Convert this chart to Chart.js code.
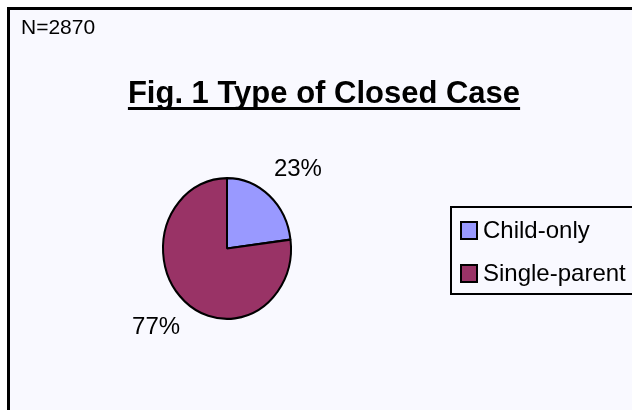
<!DOCTYPE html>
<html>
<head>
<meta charset="utf-8">
<script src="https://cdn.jsdelivr.net/npm/chart.js@4.4.1/dist/chart.umd.min.js"></script>
<style>
  html, body { margin: 0; padding: 0; background: #fff; overflow: hidden; }
  canvas { display: block; }
</style>
</head>
<body>
<canvas id="pie" width="632" height="410"></canvas>
<script>
'use strict';
// Fig. 1 — type de dossier clos (N=2870), camembert + légende encadrée.
const LABELS = ['Child-only', 'Single-parent'];
const VALUES = [23, 77];
const COLORS = ['#9999FF', '#993366'];
const TITLE = 'Fig. 1 Type of Closed Case';
const NOTE = 'N=2870';

const FONT = '"Liberation Sans", Arial, sans-serif';
const BG = '#F9F9FF';
const SY = 1.1; // l'original est légèrement étiré en hauteur

const decor = {
  id: 'decor',
  beforeDraw(c) {
    const ctx = c.ctx;
    ctx.save();
    ctx.fillStyle = '#fff'; ctx.fillRect(0, 0, c.width, c.height);
    ctx.fillStyle = BG; ctx.fillRect(9, 9, c.width, c.height);
    ctx.strokeStyle = '#000'; ctx.lineWidth = 3;
    ctx.beginPath(); ctx.moveTo(8.5, c.height + 5); ctx.lineTo(8.5, 8.5); ctx.lineTo(c.width + 5, 8.5); ctx.stroke();
    // N
    ctx.fillStyle = '#000'; ctx.textBaseline = 'alphabetic'; ctx.textAlign = 'left';
    ctx.font = `21px ${FONT}`;
    ctx.fillText(NOTE, 21, 34);
    // titre souligné
    ctx.font = `bold 31px ${FONT}`; ctx.textAlign = 'center';
    const tw = ctx.measureText(TITLE).width;
    ctx.fillText(TITLE, 324, 103);
    ctx.fillRect(324 - tw / 2, 107, tw, 3);
    // légende
    ctx.lineWidth = 2; ctx.strokeStyle = '#000';
    ctx.strokeRect(451, 207, 300, 87);
    ctx.font = `24px ${FONT}`; ctx.textAlign = 'left'; ctx.textBaseline = 'middle';
    c.data.labels.forEach((l, i) => {
      const y = 230 + i * 43;
      ctx.fillStyle = c.data.datasets[0].backgroundColor[i];
      ctx.fillRect(461, y - 8, 16, 17);
      ctx.lineWidth = 2; ctx.strokeRect(461, y - 8, 16, 17);
      ctx.fillStyle = '#000';
      ctx.fillText(l, 483, y + 1);
    });
    ctx.restore();
  },
  beforeDatasetsDraw(c) {
    const a = c.getDatasetMeta(0).data[0];
    const ctx = c.ctx;
    ctx.save();
    ctx.translate(a.x, a.y); ctx.scale(1, SY); ctx.translate(-a.x, -a.y);
  },
  afterDatasetsDraw(c) {
    const ctx = c.ctx;
    ctx.restore();
    // étiquettes %
    ctx.save();
    ctx.font = `24px ${FONT}`; ctx.fillStyle = '#000';
    ctx.textAlign = 'center'; ctx.textBaseline = 'middle';
    const tot = VALUES.reduce((s, v) => s + v, 0);
    c.getDatasetMeta(0).data.forEach((arc, i) => {
      const mid = (arc.startAngle + arc.endAngle) / 2;
      const r = arc.outerRadius + 24;
      const txt = Math.round(VALUES[i] / tot * 100) + '%';
      const w = ctx.measureText(txt).width;
      const x = arc.x + Math.cos(mid) * r + Math.cos(mid) * w * 0.4;
      const y = arc.y + Math.sin(mid) * r * SY + Math.sin(mid) * 9;
      ctx.fillText(txt, x, y);
    });
    ctx.restore();
  }
};

new Chart(document.getElementById('pie').getContext('2d'), {
  type: 'pie',
  data: { labels: LABELS, datasets: [{ data: VALUES, backgroundColor: COLORS, borderColor: '#000', borderWidth: 2 }] },
  options: {
    responsive: false, animation: false, devicePixelRatio: 1,
    radius: 64,
    layout: { padding: { left: 160, right: 338, top: 181, bottom: 94 } },
    plugins: { legend: { display: false }, tooltip: { enabled: false }, title: { display: false } }
  },
  plugins: [decor]
});
</script>
</body>
</html>
